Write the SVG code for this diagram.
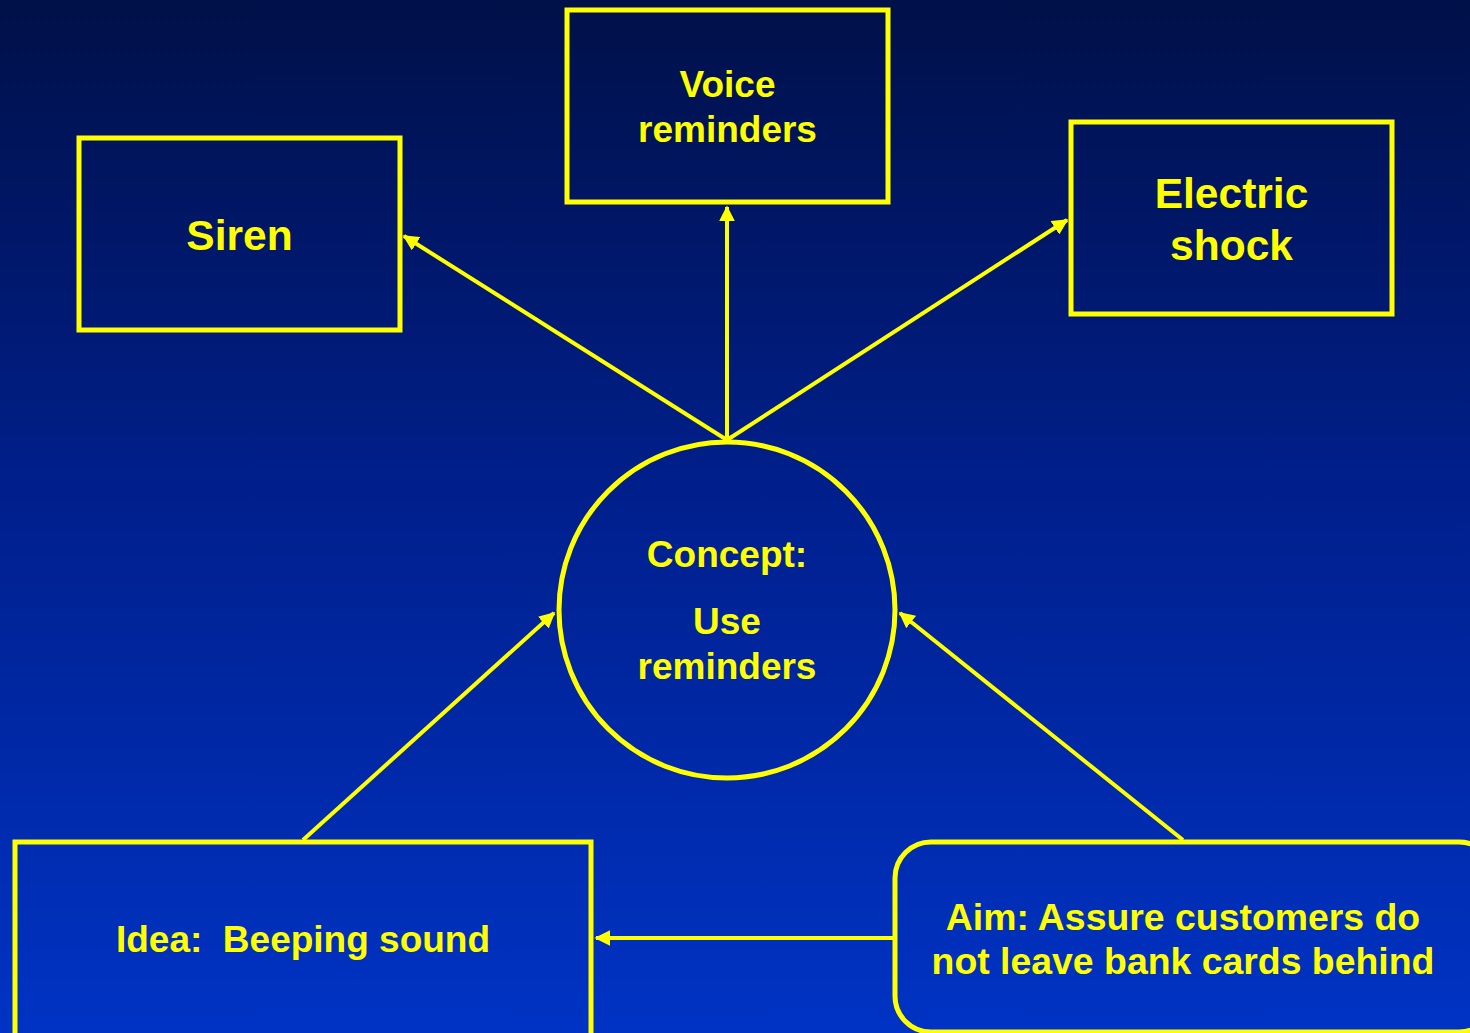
<svg xmlns="http://www.w3.org/2000/svg" width="1470" height="1033" viewBox="0 0 1470 1033">
<defs>
<linearGradient id="bg" x1="0" y1="0" x2="0" y2="1">
<stop offset="0" stop-color="#001048"/>
<stop offset="0.5" stop-color="#00208f"/>
<stop offset="1" stop-color="#0033c4"/>
</linearGradient>
<marker id="ah" viewBox="0 0 10 10" refX="9" refY="5" markerWidth="4" markerHeight="4" orient="auto" markerUnits="strokeWidth">
<path d="M0,0 L10,5 L0,10 z" fill="#ffff00"/>
</marker>
<style>
.box{fill:none;stroke:#ffff00;stroke-width:5}
.t{font-family:"Liberation Sans",Arial,sans-serif;font-weight:bold;fill:#ffff00;text-anchor:middle;white-space:pre}
.c{stroke:#ffff00;stroke-width:4;fill:none;marker-end:url(#ah)}
</style>
</defs>
<rect width="1470" height="1033" fill="url(#bg)"/>
<g id="connectors">
<line class="c" x1="727" y1="440" x2="404" y2="236"/>
<line class="c" x1="727" y1="440" x2="727" y2="207"/>
<line class="c" x1="727" y1="440" x2="1067" y2="220"/>
<line class="c" x1="303" y1="840" x2="554" y2="613"/>
<line class="c" x1="1183" y1="840" x2="900" y2="613"/>
<line class="c" x1="893" y1="938" x2="596" y2="938"/>
</g>
<g id="siren">
<rect class="box" x="79" y="138" width="321" height="192"/>
<text class="t" x="239.5" y="250" font-size="42.5">Siren</text>
</g>
<g id="voice">
<rect class="box" x="567" y="10" width="321" height="192"/>
<text class="t" x="727.5" y="97" font-size="37">Voice</text>
<text class="t" x="727.5" y="142" font-size="37">reminders</text>
</g>
<g id="electric">
<rect class="box" x="1071" y="122" width="321" height="192"/>
<text class="t" x="1231.5" y="208" font-size="42.5">Electric</text>
<text class="t" x="1231.5" y="260" font-size="42.5">shock</text>
</g>
<g id="concept">
<circle cx="727" cy="610" r="168" fill="none" stroke="#ffff00" stroke-width="5"/>
<text class="t" x="727" y="567" font-size="37">Concept:</text>
<text class="t" x="727" y="634" font-size="37">Use</text>
<text class="t" x="727" y="679" font-size="37">reminders</text>
</g>
<g id="idea">
<rect class="box" x="15" y="842" width="576" height="210"/>
<text class="t" x="303" y="952" font-size="37" xml:space="preserve">Idea:  Beeping sound</text>
</g>
<g id="aim">
<rect class="box" x="895" y="842" width="600" height="190" rx="36" ry="36"/>
<text class="t" x="1183" y="930" font-size="37.4">Aim: Assure customers do</text>
<text class="t" x="1183" y="974" font-size="37.4">not leave bank cards behind</text>
</g>
</svg>
